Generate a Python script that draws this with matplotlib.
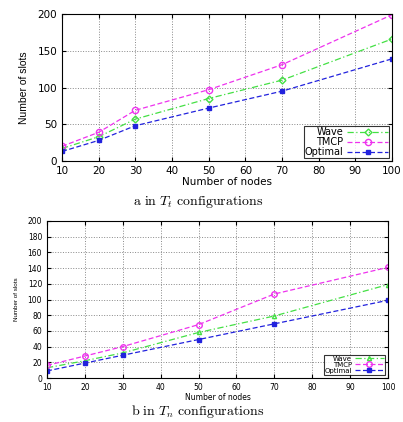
import matplotlib.pyplot as plt
import numpy as np

plt.rcParams.update({
    "font.family": "DejaVu Sans",
    "mathtext.fontset": "cm",
    "axes.linewidth": 0.8,
})

# data
nodes = [10, 20, 30, 50, 70, 100]

wave_t = [17, 33, 57, 85, 110, 166]
tmcp_t = [20, 39, 69, 97, 131, 199]
optimal_t = [13, 28, 48, 72, 95, 139]

wave_n = [13, 22, 32, 58, 79, 119]
tmcp_n = [16, 28, 40, 68, 107, 141]
optimal_n = [9, 19, 29, 49, 69, 99]

green = "#44e044"
magenta = "#ee33ee"
blue = "#2222dd"


def draw(ax, wave, tmcp, optimal, fs, lfs, yfs, ms, wave_marker, yticks,
         hlen, legpad):
    ax.plot(nodes, wave, color=green, linestyle=(0, (5, 2, 1, 2)), linewidth=0.9,
            marker=wave_marker, markersize=ms - 1, markerfacecolor="none",
            markeredgecolor=green, label="Wave")
    ax.plot(nodes, tmcp, color=magenta, linestyle=(0, (4, 2)), linewidth=0.9,
            marker="o", markersize=ms, markerfacecolor="none",
            markeredgecolor=magenta, label="TMCP")
    ax.plot(nodes, optimal, color=blue, linestyle=(0, (4, 2)), linewidth=0.9,
            marker="s", markersize=ms - 1, markerfacecolor=blue,
            markeredgecolor=blue, label="Optimal")
    ax.set_xlim(10, 100)
    ax.set_ylim(0, 200)
    ax.set_xticks(range(10, 101, 10))
    ax.set_yticks(yticks)
    ax.grid(True, linestyle=":", color="#888888", linewidth=0.7)
    ax.tick_params(labelsize=fs, direction="in", length=3, top=True, right=True)
    ax.set_xlabel("Number of nodes", fontsize=fs, labelpad=1)
    ax.set_ylabel("Number of slots", fontsize=yfs,
                  family=["Liberation Sans Narrow", "Liberation Sans"], labelpad=6)
    leg = ax.legend(loc="lower right", fontsize=lfs, markerfirst=False,
                    frameon=True, fancybox=False, edgecolor="black",
                    handlelength=hlen, borderpad=0.1, labelspacing=0.0,
                    handletextpad=0.4, borderaxespad=legpad)
    leg.get_frame().set_linewidth(0.8)


fig = plt.figure(figsize=(4.03, 4.22), dpi=100)

ax1 = fig.add_axes([62 / 403, 1 - 161 / 422, 330 / 403, 147 / 422])
draw(ax1, wave_t, tmcp_t, optimal_t, 7.5, 7, 7.5, 4.5, "D", range(0, 201, 50),
     4.2, 0.3)

ax2 = fig.add_axes([47 / 403, 1 - 378 / 422, 341 / 403, 157 / 422])
draw(ax2, wave_n, tmcp_n, optimal_n, 5.5, 5, 4.5, 4, "^", range(0, 201, 20),
     4.2, 0.5)

fig.text(198 / 403, 1 - 202 / 422, r"$\mathrm{a\ in}\ T_t\ \mathrm{configurations}$",
         fontsize=10, ha="center", va="center")
fig.text(198 / 403, 1 - 411 / 422, r"$\mathrm{b\ in}\ T_n\ \mathrm{configurations}$",
         fontsize=10, ha="center", va="center")

fig.savefig("out.png", dpi=100)
